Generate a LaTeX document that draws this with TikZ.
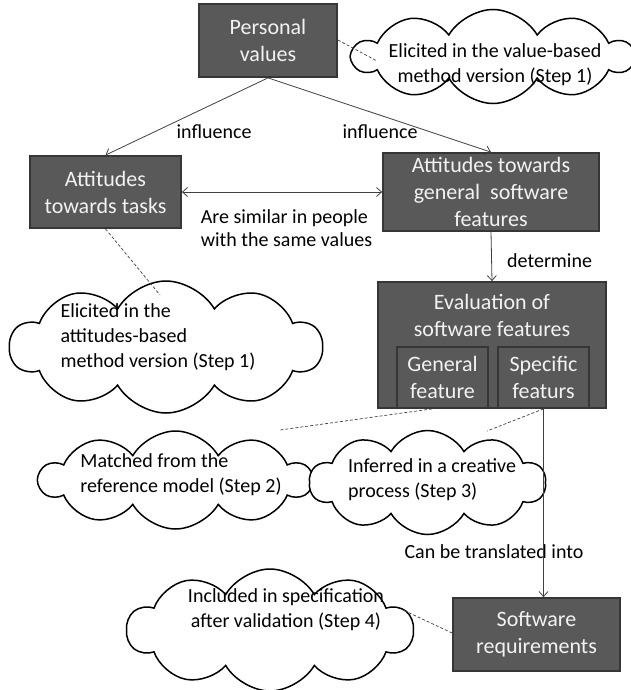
\documentclass[tikz,border=0pt]{standalone}
\usepackage{fontspec}
\setmainfont{Carlito}
\usetikzlibrary{shapes.symbols,arrows.meta}
\definecolor{boxfill}{HTML}{595959}
\definecolor{boxborder}{HTML}{363636}
\definecolor{boxtext}{HTML}{F2F2F2}
\definecolor{linegray}{HTML}{404040}
\tikzset{
  box/.style={draw=boxborder, line width=1.8pt, fill=boxfill, text=boxtext,
    font=\fontsize{22}{27}\selectfont, align=center, inner sep=0pt},
  lbl/.style={font=\fontsize{20}{23}\selectfont, align=left, inner sep=0pt, text=black},
  ctext/.style={font=\fontsize{20}{25}\selectfont, align=left, inner sep=0pt, text=black},
  cloudy/.style={cloud, draw=black, line width=1.5pt, fill=white, cloud puffs=10,
    cloud puff arc=120, cloud ignores aspect, inner sep=0pt},
  conn/.style={draw=linegray, line width=0.8pt},
  arr/.style={conn, -{Straight Barb[length=5pt,width=9pt]}},
  biarr/.style={conn, {Straight Barb[length=5pt,width=9pt]}-{Straight Barb[length=5pt,width=9pt]}},
  dashline/.style={draw=linegray, line width=0.7pt, dash pattern=on 3pt off 2pt}
}
\begin{document}
\begin{tikzpicture}[x=1pt, y=-1pt]
\useasboundingbox (0,0) rectangle (631,690);
% boxes
\node[box, minimum width=138pt, minimum height=73pt] (pv) at (268,40.5) {Personal\\values};
\node[box, minimum width=151pt, minimum height=72pt] (att) at (105.5,192) {Attitudes\\towards tasks};
\node[box, minimum width=216pt, minimum height=78pt] (agen) at (491,192) {Attitudes towards\\general~ software\\features};
\node[box, minimum width=228pt, minimum height=126pt] (eval) at (492,345) {};
\node[box, draw=none, fill=none] (evalt) at (492,315) {Evaluation of\\software features};
\node[box, minimum width=91pt, minimum height=61pt] (gf) at (442.5,377.5) {General\\feature};
\node[box, minimum width=91pt, minimum height=61pt] (sf) at (543.5,377.5) {Specific\\featurs};
\node[box, minimum width=167pt, minimum height=73pt] (sr) at (536.5,634.5) {Software\\requirements};
% clouds
\node[cloudy, minimum width=280pt, minimum height=94pt] (c1) at (493,56.5) {};
\node[ctext, align=center] (c1t) at (495,65) {Elicited in the value-based\\method version (Step 1)};
\node[cloudy, minimum width=312pt, minimum height=132pt] (c2) at (166,347) {};
\node[ctext] (c2t) at (158,337) {Elicited in the\\attitudes-based\\method version (Step 1)};
\node[cloudy, minimum width=272pt, minimum height=98pt] (c3) at (175.5,480) {};
\node[ctext] (c3t) at (181,474.5) {Matched from the\\reference model (Step 2)};
\node[cloudy, minimum width=236pt, minimum height=104pt] (c4) at (427.5,482.5) {};
\node[ctext] (c4t) at (432,480) {Inferred in a creative\\process (Step 3)};
\node[cloudy, minimum width=286pt, minimum height=122pt] (c5) at (270,630) {};
\node[ctext, align=center] (c5t) at (286,609.5) {Included in specification\\after validation (Step 4)};
% labels
\node[lbl] (inf1) at (214,132) {influence};
\node[lbl] (inf2) at (380,132) {influence};
\node[lbl] (sim) at (286.5,228.5) {Are similar in people\\with the same values};
\node[lbl, anchor=west] (det) at (507,261) {determine};
\node[lbl] (trans) at (494,552) {Can be translated into};
% connectors
\draw[arr] (pv.south) -- (att.north);
\draw[arr] (pv.south) -- (agen.north);
\draw[biarr] (att.east) -- (agen.west);
\draw[arr] (agen.south) -- (eval.north);
\draw[arr] (sf.south) -- (sf.south |- sr.north);
% dashed links
\coordinate (d1) at (377,61);
\coordinate (d2) at (160,295);
\coordinate (d3) at (280,430);
\coordinate (d4) at (487,431);
\coordinate (d5) at (403,610);
\draw[dashline] (pv.east |- 0,40) -- (d1);
\draw[dashline] (att.south) -- (d2);
\draw[dashline] (eval.south -| 432,0) -- (d3);
\draw[dashline] (sf.south) -- (d4);
\draw[dashline] (sr.west |- 0,633) -- (d5);
\end{tikzpicture}
\end{document}
